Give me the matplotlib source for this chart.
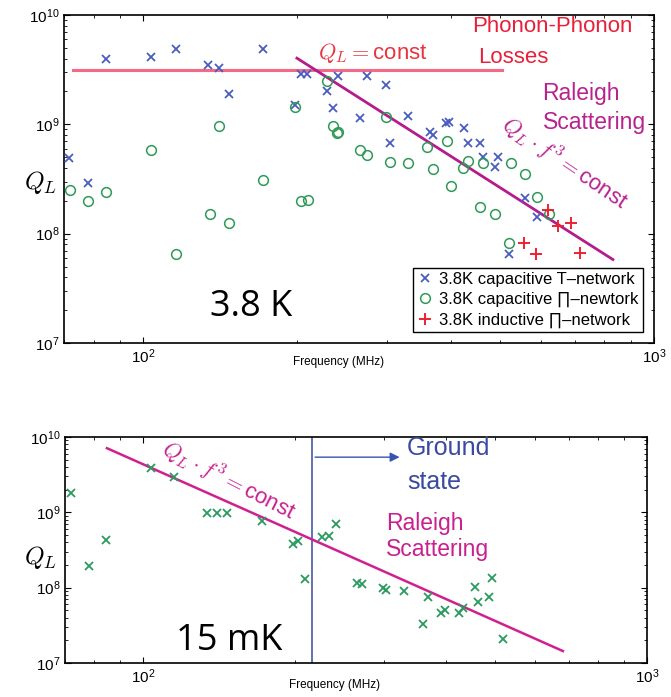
import matplotlib
matplotlib.use("Agg")
import matplotlib.pyplot as plt
import numpy as np

plt.rcParams['mathtext.fontset'] = 'cm'
plt.rcParams['font.family'] = ['Liberation Sans', 'DejaVu Sans']

# ---------------- data: top panel (3.8 K) ----------------
t_freq = [71.6, 78, 84.6, 103.7, 116, 134, 141, 147, 172, 198, 204, 209, 229, 235,
          241, 274, 299, 266, 330, 304, 364, 370, 392, 397, 424, 432, 456, 463, 495,
          488, 558, 589, 521]
t_q = [4.9e8, 2.9e8, 4.0e9, 4.1e9, 4.9e9, 3.5e9, 3.3e9, 1.9e9, 4.9e9, 1.5e9, 2.9e9, 2.9e9,
       2.0e9, 1.4e9, 2.76e9, 2.76e9, 2.3e9, 1.14e9, 1.18e9, 6.8e8, 8.5e8, 8.0e8, 1.02e9,
       1.04e9, 9.2e8, 6.8e8, 6.7e8, 5.0e8, 5.0e8, 4.1e8, 2.1e8, 1.43e8, 6.5e7]

c_freq = [72, 78, 84.6, 103.7, 141, 172, 198, 204, 210, 235, 240, 229, 135, 147.5, 116,
          241, 299, 266, 274, 304, 330, 360, 393, 369, 422, 432, 463, 524, 558, 401, 589,
          456, 489, 520, 622]
c_q = [2.5e8, 1.97e8, 2.4e8, 5.8e8, 9.6e8, 3.1e8, 1.43e9, 1.97e8, 2.05e8, 9.6e8, 8.3e8,
       2.5e9, 1.52e8, 1.24e8, 6.5e7, 8.5e8, 1.16e9, 5.8e8, 5.2e8, 4.5e8, 4.4e8, 6.2e8,
       7.1e8, 3.9e8, 4.0e8, 4.6e8, 4.4e8, 4.4e8, 3.5e8, 2.75e8, 2.15e8, 1.77e8, 1.52e8,
       8.3e7, 1.52e8]

i_freq = [620, 649, 687, 556, 587, 716]
i_q = [1.66e8, 1.18e8, 1.26e8, 8.3e7, 6.5e7, 6.7e7]

const_line_f = [72.9, 505]
const_line_q = [3.13e9, 3.13e9]
ray_top_f = [200, 831]
ray_top_q = [4.03e9, 5.8e7]

# ---------------- data: bottom panel (15 mK) ----------------
m_freq = [72, 78, 84.4, 103.7, 115, 134, 140, 147, 172, 198, 203, 210, 227, 234, 242,
          266, 272, 299, 303, 329, 367, 360, 391, 398, 423, 431, 455, 462, 485, 492, 518]
m_q = [1.8e9, 1.94e8, 4.3e8, 3.9e9, 2.9e9, 9.8e8, 9.8e8, 9.8e8, 7.7e8, 3.8e8, 4.2e8,
       1.3e8, 4.7e8, 4.8e8, 7.0e8, 1.15e8, 1.12e8, 9.9e7, 9.3e7, 9.0e7, 7.5e7, 3.3e7,
       4.6e7, 5.0e7, 4.6e7, 5.3e7, 1.02e8, 6.4e7, 7.5e7, 1.34e8, 2.1e7]
ray_bot_f = [84.8, 681]
ray_bot_q = [7.1e9, 1.44e7]
ground_f = 216.7
arrow_end_f = 327
arrow_q = 5.4e9

legend_labels = ["3.8K capacitive T\u2013network", "3.8K capacitive \u220f\u2013newtork",
                 "3.8K inductive \u220f\u2013network"]

fig = plt.figure(figsize=(6.71, 6.97), dpi=100)
ax1 = fig.add_axes([64/671, 1-343/697, 590/671, 328/697])
ax2 = fig.add_axes([65/671, 1-663/697, 582/671, 226/697])

blue = '#4a5cc0'
green = '#2e9a58'
red = '#ee2030'
mag = '#b41c8c'
pink_line = '#f46a86'

for ax in (ax1, ax2):
    ax.set_xscale('log')
    ax.set_yscale('log')
    ax.set_xlim(70, 1000)
    ax.set_ylim(1e7, 1e10)
    ax.tick_params(which='both', direction='in', top=True, right=True, labelsize=11)
    ax.tick_params(which='major', length=4, width=0.8)
    ax.tick_params(which='minor', length=2.2, width=0.6)
    for s in ax.spines.values():
        s.set_linewidth(1.2)
    ax.set_xticks([100, 1000])

# ---- top panel ----
ax1.plot(const_line_f, const_line_q, color=pink_line, lw=2.2, zorder=2)
ax1.plot(ray_top_f, ray_top_q, color=mag, lw=2.0, zorder=2)
ax1.plot(t_freq, t_q, 'x', color=blue, ms=6, mew=1.3, ls='none', label=legend_labels[0], zorder=3)
ax1.plot(c_freq, c_q, 'o', color=green, ms=7, mew=1.1, mfc='none', ls='none', label=legend_labels[1], zorder=3)
ax1.plot(i_freq, i_q, '+', color=red, ms=9, mew=1.4, ls='none', label=legend_labels[2], zorder=4)

leg = ax1.legend(loc='lower right', bbox_to_anchor=(0.981, 0.034), fontsize=12,
                 frameon=True, fancybox=False, edgecolor='black', framealpha=1,
                 handletextpad=0.35, labelspacing=0.3, borderpad=0.25, handlelength=1.0,
                 borderaxespad=0.0)
leg.get_frame().set_linewidth(1.0)

ax1.text(220, 4.48e9, r"$Q_L=$const", color='#e8343e', fontsize=16, ha='left', va='center')
ax1.text(441, 7.9e9, "Phonon-Phonon", color='#e8203a', fontsize=16, ha='left', va='center')
ax1.text(452, 4.12e9, "Losses", color='#e8203a', fontsize=16, ha='left', va='center')
ax1.text(605, 1.92e9, "Raleigh", color='#b8228e', fontsize=16.5, ha='left', va='center')
ax1.text(605, 1.04e9, "Scattering", color='#b8228e', fontsize=16.5, ha='left', va='center')
ax1.text(668, 4.4e8, r"$Q_L\cdot f^3=$const", color='#b8228e', fontsize=16, ha='center',
         va='center', rotation=-34, rotation_mode='anchor')
ax1.text(163, 2.14e7, "3.8 K", fontsize=26, family='Open Sans', ha='center', va='center')
ax1.text(0.466, -0.058, "Frequency (MHz)", transform=ax1.transAxes, fontsize=8.5,
         ha='center', va='center')
ax1.text(-0.012, 0.488, r"$Q_L$", transform=ax1.transAxes, fontsize=18, ha='right', va='center')

# ---- bottom panel ----
ax2.axvline(ground_f, color='#3a4a9a', lw=1.1, zorder=2)
ax2.annotate("", xy=(arrow_end_f, arrow_q), xytext=(ground_f, arrow_q),
             arrowprops=dict(arrowstyle='-|>', color='#3a52b0', lw=1.0, mutation_scale=14))
ax2.plot(ray_bot_f, ray_bot_q, color='#d0208e', lw=1.8, zorder=2)
ax2.plot(m_freq, m_q, 'x', color='#2a9a5e', ms=6, mew=1.3, ls='none', zorder=3)

ax2.text(334, 7.1e9, "Ground", color='#3a4aa0', fontsize=18, ha='left', va='center')
ax2.text(334, 2.5e9, "state", color='#3a4aa0', fontsize=18, ha='left', va='center')
ax2.text(304, 7.2e8, "Raleigh", color='#c8208e', fontsize=16.5, ha='left', va='center')
ax2.text(304, 3.2e8, "Scattering", color='#c8208e', fontsize=16.5, ha='left', va='center')
ax2.text(148, 2.6e9, r"$Q_L\cdot f^3=$const", color='#c8208e', fontsize=16, ha='center',
         va='center', rotation=-27, rotation_mode='anchor')
ax2.text(148, 1.95e7, "15 mK", fontsize=26, family='Open Sans', ha='center', va='center')
ax2.text(0.464, -0.097, "Frequency (MHz)", transform=ax2.transAxes, fontsize=8.5,
         ha='center', va='center')
ax2.text(-0.014, 0.469, r"$Q_L$", transform=ax2.transAxes, fontsize=18, ha='right', va='center')

fig.savefig("out.png", dpi=100)
